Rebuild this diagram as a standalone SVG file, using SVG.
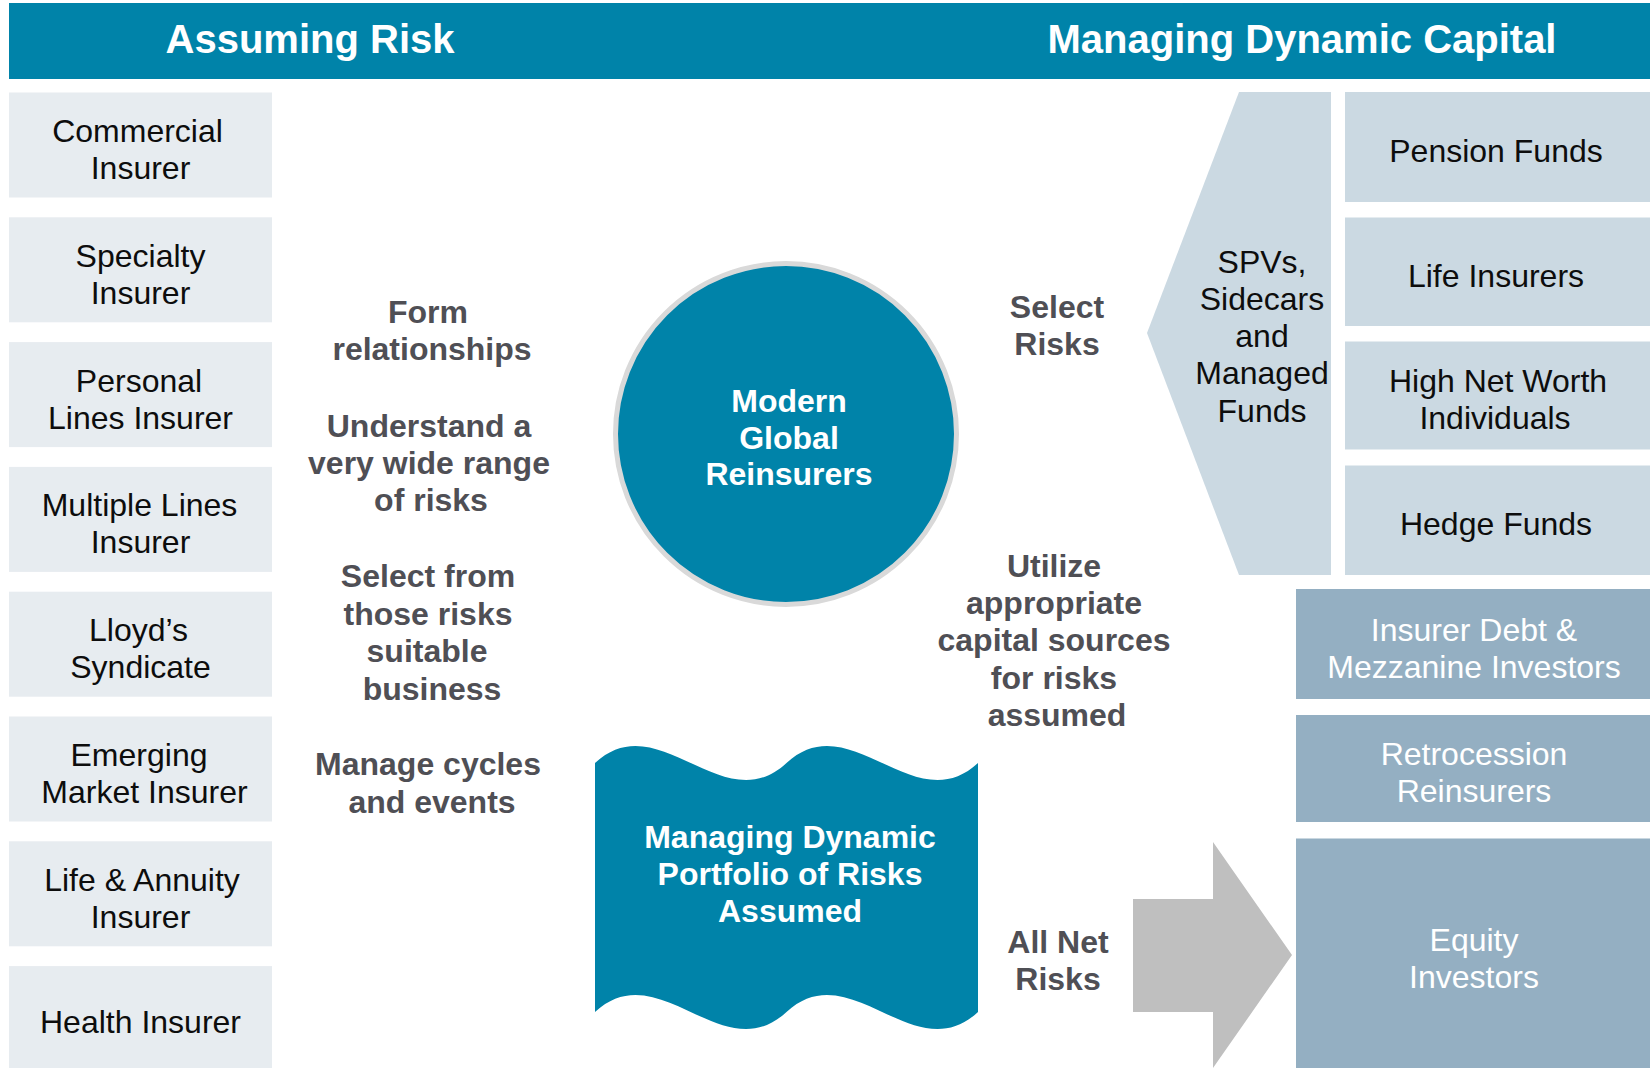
<svg xmlns="http://www.w3.org/2000/svg" width="1650" height="1068" viewBox="0 0 1650 1068">
  <style>
    .teal{fill:#0083A9}
    .ttl{font:bold 40px "Liberation Sans",Arial,sans-serif;fill:#fff;text-anchor:middle}
    .src{fill:#E7ECF0}
    .lbl{font:32px "Liberation Sans",Arial,sans-serif;fill:#0D0D0D;text-anchor:middle}
    .act{font:bold 32px "Liberation Sans",Arial,sans-serif;fill:#4F4F55;text-anchor:middle}
    .wb{font:bold 32px "Liberation Sans",Arial,sans-serif;fill:#fff;text-anchor:middle}
    .wr{font:32px "Liberation Sans",Arial,sans-serif;fill:#fff;text-anchor:middle}
    .inv{fill:#CBD9E2}
    .cap{fill:#94AFC2}
  </style>

  <rect width="1650" height="1068" fill="#fff"/>

  <!-- header band -->
  <g id="header">
    <rect class="teal" x="9" y="3" width="1641" height="76"/>
    <text class="ttl" x="310" y="53">Assuming Risk</text>
    <text class="ttl" x="1302" y="53">Managing Dynamic Capital</text>
  </g>

  <!-- risk sources (left column) -->
  <g id="commercial-insurer">
    <rect class="src" x="9" y="92.5" width="263" height="105"/>
    <text class="lbl" x="137.5" y="142">Commercial</text>
    <text class="lbl" x="140.5" y="179">Insurer</text>
  </g>
  <g id="specialty-insurer">
    <rect class="src" x="9" y="217.3" width="263" height="105"/>
    <text class="lbl" x="140.5" y="266.8">Specialty</text>
    <text class="lbl" x="140.5" y="303.8">Insurer</text>
  </g>
  <g id="personal-lines-insurer">
    <rect class="src" x="9" y="342.1" width="263" height="105"/>
    <text class="lbl" x="139" y="391.6">Personal</text>
    <text class="lbl" x="140.5" y="428.6">Lines Insurer</text>
  </g>
  <g id="multiple-lines-insurer">
    <rect class="src" x="9" y="466.9" width="263" height="105"/>
    <text class="lbl" x="139.5" y="516.4">Multiple Lines</text>
    <text class="lbl" x="140.5" y="553.4">Insurer</text>
  </g>
  <g id="lloyds-syndicate">
    <rect class="src" x="9" y="591.7" width="263" height="105"/>
    <text class="lbl" x="138.5" y="641.2">Lloyd’s</text>
    <text class="lbl" x="140.5" y="678.2">Syndicate</text>
  </g>
  <g id="emerging-market-insurer">
    <rect class="src" x="9" y="716.5" width="263" height="105"/>
    <text class="lbl" x="139" y="766">Emerging</text>
    <text class="lbl" x="144.5" y="803">Market Insurer</text>
  </g>
  <g id="life-annuity-insurer">
    <rect class="src" x="9" y="841.3" width="263" height="105"/>
    <text class="lbl" x="142" y="890.8">Life &amp; Annuity</text>
    <text class="lbl" x="140.5" y="927.8">Insurer</text>
  </g>
  <g id="health-insurer">
    <rect class="src" x="9" y="966.1" width="263" height="102"/>
    <text class="lbl" x="140.5" y="1033">Health Insurer</text>
  </g>

  <!-- activities of the reinsurer -->
  <g id="activities">
    <text class="act" x="428" y="323">Form</text>
    <text class="act" x="432" y="360">relationships</text>
    <text class="act" x="429" y="437">Understand a</text>
    <text class="act" x="429" y="474">very wide range</text>
    <text class="act" x="431" y="511">of risks</text>
    <text class="act" x="428" y="587">Select from</text>
    <text class="act" x="428" y="625">those risks</text>
    <text class="act" x="427" y="662">suitable</text>
    <text class="act" x="432" y="700">business</text>
    <text class="act" x="428" y="775">Manage cycles</text>
    <text class="act" x="432" y="813">and events</text>
  </g>

  <!-- central reinsurer -->
  <g id="modern-global-reinsurers">
    <circle class="teal" cx="786" cy="434" r="170.5" stroke="#D9D9D9" stroke-width="5"/>
    <text class="wb" x="789" y="412">Modern</text>
    <text class="wb" x="789" y="448.5">Global</text>
    <text class="wb" x="789" y="485">Reinsurers</text>
  </g>

  <!-- portfolio banner -->
  <g id="dynamic-portfolio">
    <path class="teal" d="M595,763 C658.8,704 722.7,822 786.5,763 C850.3,704 914.2,822 978,763 L978,1012 C914.2,1071 850.3,953 786.5,1012 C722.7,1071 658.8,953 595,1012 Z"/>
    <text class="wb" x="790" y="848">Managing Dynamic</text>
    <text class="wb" x="790" y="885">Portfolio of Risks</text>
    <text class="wb" x="790" y="922">Assumed</text>
  </g>

  <!-- capital-side labels -->
  <g id="capital-actions">
    <text class="act" x="1057" y="318">Select</text>
    <text class="act" x="1057" y="355">Risks</text>
    <text class="act" x="1054" y="577">Utilize</text>
    <text class="act" x="1054" y="614">appropriate</text>
    <text class="act" x="1054" y="651">capital sources</text>
    <text class="act" x="1054" y="689">for risks</text>
    <text class="act" x="1057" y="726">assumed</text>
    <text class="act" x="1058" y="953">All Net</text>
    <text class="act" x="1058" y="990">Risks</text>
  </g>

  <!-- connectors -->
  <g id="connectors">
    <polygon fill="#BFBFBF" points="1133,899 1213,899 1213,842 1292,955 1213,1068 1213,1012 1133,1012"/>
  </g>

  <!-- alternative capital vehicles -->
  <g id="spvs-sidecars">
    <polygon class="inv" points="1239,92 1331,92 1331,575 1239,575 1147,333"/>
    <text class="lbl" x="1262" y="273">SPVs,</text>
    <text class="lbl" x="1262" y="310">Sidecars</text>
    <text class="lbl" x="1262" y="347">and</text>
    <text class="lbl" x="1262" y="384">Managed</text>
    <text class="lbl" x="1262" y="421.5">Funds</text>
  </g>
  <g id="pension-funds">
    <rect class="inv" x="1345" y="92" width="305" height="110"/>
    <text class="lbl" x="1496" y="162">Pension Funds</text>
  </g>
  <g id="life-insurers">
    <rect class="inv" x="1345" y="217.5" width="305" height="108.5"/>
    <text class="lbl" x="1496" y="287">Life Insurers</text>
  </g>
  <g id="high-net-worth">
    <rect class="inv" x="1345" y="341.5" width="305" height="108"/>
    <text class="lbl" x="1498" y="392">High Net Worth</text>
    <text class="lbl" x="1495" y="428.5">Individuals</text>
  </g>
  <g id="hedge-funds">
    <rect class="inv" x="1345" y="465.5" width="305" height="109.5"/>
    <text class="lbl" x="1496" y="535">Hedge Funds</text>
  </g>

  <!-- traditional capital providers -->
  <g id="insurer-debt">
    <rect class="cap" x="1296" y="589" width="354" height="110"/>
    <text class="wr" x="1474" y="641">Insurer Debt &amp;</text>
    <text class="wr" x="1474" y="678">Mezzanine Investors</text>
  </g>
  <g id="retrocession">
    <rect class="cap" x="1296" y="715" width="354" height="107"/>
    <text class="wr" x="1474" y="765">Retrocession</text>
    <text class="wr" x="1474" y="802">Reinsurers</text>
  </g>
  <g id="equity-investors">
    <rect class="cap" x="1296" y="838.5" width="354" height="229.5"/>
    <text class="wr" x="1474" y="951">Equity</text>
    <text class="wr" x="1474" y="988">Investors</text>
  </g>
</svg>
